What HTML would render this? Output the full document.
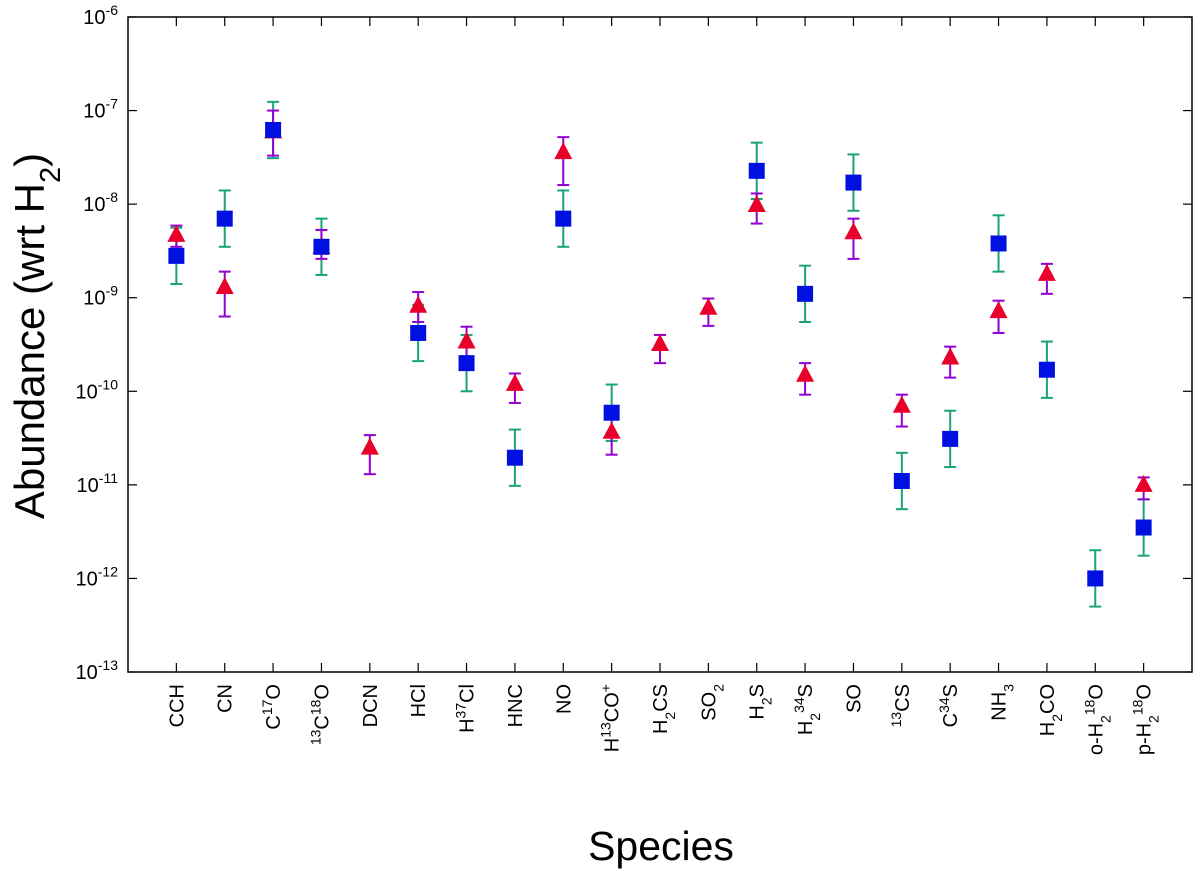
<!DOCTYPE html>
<html><head><meta charset="utf-8"><style>
body{margin:0;background:#fff;}
svg{display:block;font-family:"Liberation Sans",sans-serif;}
</style></head><body>
<svg id="chart" width="1200" height="870" viewBox="0 0 1200 870" xmlns="http://www.w3.org/2000/svg">
<rect x="0" y="0" width="1200" height="870" fill="#fff"/>
<g id="grid"></g>
<g id="marks"></g>
<rect x="128" y="17" width="1064" height="655" fill="none" stroke="#000" stroke-width="1.5"/>
<text transform="translate(44,336) rotate(-90)" text-anchor="middle" font-size="42">Abundance (wrt H<tspan baseline-shift="sub" font-size="29">2</tspan>)</text>
<text x="661" y="860" text-anchor="middle" font-size="41">Species</text>
</svg>
<script>
const categories=[["CCH"],["CN"],["C",["17","sup"],"O"],[["13","sup"],"C",["18","sup"],"O"],["DCN"],["HCl"],["H",["37","sup"],"Cl"],["HNC"],["NO"],["H",["13","sup"],"CO",["+","sup"]],["H",["2","sub"],"CS"],["SO",["2","sub"]],["H",["2","sub"],"S"],["H",["2","sub"],["34","sup"],"S"],["SO"],[["13","sup"],"CS"],["C",["34","sup"],"S"],["NH",["3","sub"]],["H",["2","sub"],"CO"],["o-H",["2","sub"],["18","sup"],"O"],["p-H",["2","sub"],["18","sup"],"O"]];
const squareValues=[2.8e-9,7e-9,6.2e-8,3.5e-9,null,4.2e-10,2e-10,1.95e-11,7e-9,5.9e-11,null,null,2.27e-8,1.1e-9,1.7e-8,1.1e-11,3.1e-11,3.8e-9,1.7e-10,1e-12,3.5e-12];
const squareErrFactor=[2,2,2,2,null,2,2,2,2,2,null,null,2,2,2,2,2,2,2,2,2];
const triValues=[4.7e-9,1.3e-9,6.0e-8,3.5e-9,2.5e-11,8.2e-10,3.4e-10,1.2e-10,3.6e-8,3.7e-11,3.2e-10,7.8e-10,9.8e-9,1.5e-10,5e-9,7e-11,2.3e-10,7.2e-10,1.8e-9,null,1.0e-11];
const triErrLo=[3.5e-9,6.3e-10,3.3e-8,2.6e-9,1.3e-11,5.5e-10,2.3e-10,7.5e-11,1.6e-8,2.1e-11,2e-10,5e-10,6.2e-9,9.2e-11,2.6e-9,4.2e-11,1.4e-10,4.2e-10,1.1e-9,null,7e-12];
const triErrHi=[5.9e-9,1.9e-9,1.0e-7,5.3e-9,3.4e-11,1.15e-9,4.9e-10,1.55e-10,5.2e-8,5e-11,4e-10,9.8e-10,1.3e-8,2e-10,7e-9,9.2e-11,3e-10,9.3e-10,2.3e-9,null,1.2e-11];
const yTickExps=[-13,-12,-11,-10,-9,-8,-7,-6];

const NS="http://www.w3.org/2000/svg";
const L=128,R=1192,T=17,B=672;
const xs=i=>L+(i+1)*(R-L)/22;
const ys=v=>T+(-6-Math.log10(v))*(B-T)/7;
function mk(t,a,p){const e=document.createElementNS(NS,t);for(const k in a)e.setAttribute(k,a[k]);(p||document.getElementById('marks')).appendChild(e);return e;}
const g=document.getElementById('grid');
yTickExps.forEach(ex=>{const y=ys(Math.pow(10,ex));
 const t1=mk('line',{x1:L,x2:L+9,y1:y,y2:y,stroke:'#000','stroke-width':1.2},g);
 
 
 const t2=mk('line',{x1:R,x2:R-9,y1:y,y2:y,stroke:'#000','stroke-width':1.2},g);
 
 
 const tx=mk('text',{x:L-10,y:y+7,'text-anchor':'end','font-size':20},g);
 
 
 tx.appendChild(document.createTextNode('10'));
 const s=mk('tspan',{dy:-9,'font-size':14},tx);s.textContent=String(ex);
});
categories.forEach((c,i)=>{const x=xs(i);
 const t1=mk('line',{x1:x,x2:x,y1:B,y2:B-9,stroke:'#000','stroke-width':1.2},g);
 
 
 const t2=mk('line',{x1:x,x2:x,y1:T,y2:T+9,stroke:'#000','stroke-width':1.2},g);
 
 
 const tx=mk('text',{transform:`translate(${x+7},684) rotate(-90)`,'text-anchor':'end','font-size':20},g);
 
 
 c.forEach(p=>{if(typeof p==='string'){const s=mk('tspan',{},tx);s.textContent=p;}
  else{const s=mk('tspan',{'font-size':14,'baseline-shift':p[1]==='sup'?'super':'sub'},tx);s.textContent=p[0];}});
});
function ebar(x,lo,hi,col,name){const y1=ys(lo),y2=ys(hi);
 const gg=mk('g',{stroke:col,'stroke-width':2});
 
 
 mk('line',{x1:x,x2:x,y1:y1,y2:y2},gg);
 mk('line',{x1:x-6,x2:x+6,y1:y1,y2:y1},gg);
 mk('line',{x1:x-6,x2:x+6,y1:y2,y2:y2},gg);}
squareValues.forEach((v,i)=>{if(v==null)return;const x=xs(i),f=squareErrFactor[i];
 ebar(x,v/f,v*f,'#1aa37a','square-error-bar');
});
triValues.forEach((v,i)=>{if(v==null)return;const x=xs(i);
 ebar(x,triErrLo[i],triErrHi[i],'#9400d3','triangle-error-bar');
});
triValues.forEach((v,i)=>{if(v==null)return;const x=xs(i),y=ys(v);
 const p=mk('polygon',{points:`${x},${y-10} ${x-9},${y+7} ${x+9},${y+7}`,fill:'#e8002a'});
 
 
});
squareValues.forEach((v,i)=>{if(v==null)return;const x=xs(i),y=ys(v);
 const r=mk('rect',{x:x-8,y:y-8,width:16,height:16,fill:'#0010e0'});
 
 
});
</script>
</body></html>
